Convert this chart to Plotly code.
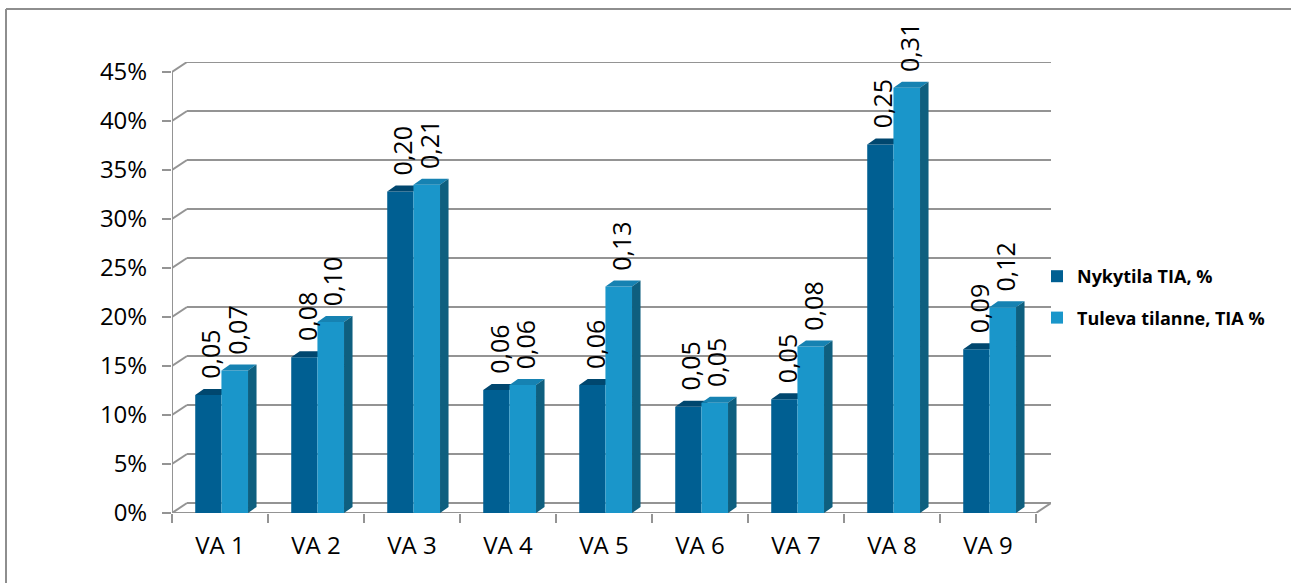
import plotly.graph_objects as go

# ---------------- data ----------------
categories = ["VA 1", "VA 2", "VA 3", "VA 4", "VA 5", "VA 6", "VA 7", "VA 8", "VA 9"]
series_names = ["Nykytila TIA, %", "Tuleva tilanne, TIA %"]
nykytila = [12.05, 15.9, 32.8, 12.55, 13.05, 10.85, 11.6, 37.6, 16.7]
tuleva = [14.55, 19.5, 33.5, 13.05, 23.1, 11.25, 17.0, 43.4, 21.0]
nykytila_labels = ["0,05", "0,08", "0,20", "0,06", "0,06", "0,05", "0,05", "0,25", "0,09"]
tuleva_labels = ["0,07", "0,10", "0,21", "0,06", "0,13", "0,05", "0,08", "0,31", "0,12"]
y_ticks = [0, 5, 10, 15, 20, 25, 30, 35, 40, 45]
y_tick_labels = ["0%", "5%", "10%", "15%", "20%", "25%", "30%", "35%", "40%", "45%"]

# ---------------- geometry / style ----------------
W, H = 1291, 583
PLOT_L, PLOT_R, PLOT_T, PLOT_B = 172, 1051, 62, 513
PX_PER_CAT = 96.0
PX_PER_UNIT = 9.8
X_RANGE = [-0.5, -0.5 + (PLOT_R - PLOT_L) / PX_PER_CAT]
Y_RANGE = [0, (PLOT_B - PLOT_T) / PX_PER_UNIT]
WALL_DX = 15 / PX_PER_CAT
WALL_DY = 10 / PX_PER_UNIT
BAR_DX = 8.5 / PX_PER_CAT
BAR_DY = 6 / PX_PER_UNIT
DARK_OFF, DARK_W = -0.258, 0.273
LIGHT_OFF, LIGHT_W = 0.015, 0.277

C_DARK = "#005F92"
C_DARK_TOP = "#00476F"
C_LIGHT = "#1A96CA"
C_LIGHT_TOP = "#1682B2"
C_SIDE = "#0E5F7F"
GRID = "#949494"
FONT = "Open Sans"


def px_x(px):
    return (px - PLOT_L) / (PLOT_R - PLOT_L)


def px_y(py):
    return (PLOT_B - py) / (PLOT_B - PLOT_T)


idx = list(range(len(categories)))
fig = go.Figure()


def add_series(vals, name, off, w, color, top_color, xa, ya, side):
    fig.add_trace(go.Bar(
        x=idx, y=vals, width=w, offset=off, name=name,
        marker=dict(color=color, line=dict(width=0)),
        legendgroup=name, xaxis=xa, yaxis=ya, hoverinfo="skip"))
    tx, ty = [], []
    for i, v in zip(idx, vals):
        x0, x1 = i + off, i + off + w
        tx += [x0, x1, x1 + BAR_DX, x0 + BAR_DX, x0, None]
        ty += [v, v, v + BAR_DY, v + BAR_DY, v, None]
    fig.add_trace(go.Scatter(x=tx, y=ty, mode="lines", fill="toself",
                             fillcolor=top_color, line=dict(width=0),
                             showlegend=False, legendgroup=name, hoverinfo="skip",
                             xaxis=xa, yaxis=ya))
    if side:
        sx, sy = [], []
        for i, v in zip(idx, vals):
            x1 = i + off + w
            sx += [x1, x1, x1 + BAR_DX, x1 + BAR_DX, x1, None]
            sy += [0, v, v + BAR_DY, BAR_DY, 0, None]
        fig.add_trace(go.Scatter(x=sx, y=sy, mode="lines", fill="toself",
                                 fillcolor=C_SIDE, line=dict(width=0),
                                 showlegend=False, legendgroup=name, hoverinfo="skip",
                                 xaxis=xa, yaxis=ya))


add_series(nykytila, series_names[0], DARK_OFF, DARK_W, C_DARK, C_DARK_TOP, "x", "y", False)
add_series(tuleva, series_names[1], LIGHT_OFF, LIGHT_W, C_LIGHT, C_LIGHT_TOP, "x2", "y2", True)

# ---------------- walls / grid ----------------
shapes = []
line = dict(color=GRID, width=2)
for v in y_ticks:
    shapes.append(dict(type="line", xref="x", yref="y", layer="below",
                       x0=-0.5, y0=v, x1=-0.5 + WALL_DX, y1=v + WALL_DY, line=line))
    shapes.append(dict(type="line", xref="x", yref="y", layer="below",
                       x0=-0.5 + WALL_DX, y0=v + WALL_DY, x1=len(idx) - 0.5 + WALL_DX,
                       y1=v + WALL_DY, line=line))
shapes.append(dict(type="line", xref="x", yref="y", layer="below",
                   x0=-0.5, y0=0, x1=-0.5, y1=y_ticks[-1], line=line))
shapes.append(dict(type="line", xref="x", yref="y", layer="below",
                   x0=-0.5, y0=0, x1=len(idx) - 0.5, y1=0, line=line))
shapes.append(dict(type="line", xref="x", yref="y", layer="below",
                   x0=len(idx) - 0.5, y0=0, x1=len(idx) - 0.5 + WALL_DX, y1=WALL_DY, line=line))
# outer chart frame
frame = dict(color="#8E8E8E", width=2)
shapes.append(dict(type="line", xref="paper", yref="paper", x0=px_x(6), y0=px_y(9),
                   x1=px_x(6), y1=px_y(H + 5), line=frame))
shapes.append(dict(type="line", xref="paper", yref="paper", x0=px_x(6), y0=px_y(9),
                   x1=px_x(W + 5), y1=px_y(9), line=frame))

# ---------------- value labels ----------------
annotations = []
for vals, labels, off, w in [(nykytila, nykytila_labels, DARK_OFF, DARK_W),
                             (tuleva, tuleva_labels, LIGHT_OFF, LIGHT_W)]:
    for i, v, t in zip(idx, vals, labels):
        annotations.append(dict(
            x=i + off + w / 2, y=v, xref="x", yref="y", text=t, showarrow=False,
            textangle=-90, xanchor="center", yanchor="bottom", yshift=14, xshift=2,
            font=dict(family=FONT, size=25, color="#000000")))

fig.update_layout(
    width=W, height=H, autosize=False,
    margin=dict(l=PLOT_L, r=W - PLOT_R, t=PLOT_T, b=H - PLOT_B, pad=0),
    paper_bgcolor="white", plot_bgcolor="white",
    barmode="overlay",
    shapes=shapes, annotations=annotations,
    showlegend=True,
    legend=dict(x=px_x(1037), y=px_y(258), xanchor="left", yanchor="top",
                font=dict(family=FONT, size=18, color="#000000", weight=700),
                tracegroupgap=15, traceorder="grouped", bgcolor="rgba(0,0,0,0)"),
    xaxis=dict(range=X_RANGE, tickmode="array", tickvals=idx, ticktext=categories,
               ticks="", showgrid=False, zeroline=False, showline=False,
               automargin=False, ticklabelstandoff=16,
               tickfont=dict(family=FONT, size=24, color="#000000"),
               minor=dict(tick0=-0.5, dtick=1, ticks="outside", ticklen=9,
                          tickwidth=2, tickcolor=GRID, showgrid=False)),
    yaxis=dict(range=Y_RANGE, tickmode="array", tickvals=y_ticks, ticktext=y_tick_labels,
               ticks="outside", ticklen=9, tickwidth=2, tickcolor=GRID,
               showgrid=False, zeroline=False, showline=False, automargin=False,
               ticklabelstandoff=10,
               tickfont=dict(family=FONT, size=24, color="#000000")),
    xaxis2=dict(range=X_RANGE, overlaying="x", visible=False, anchor="y2"),
    yaxis2=dict(range=Y_RANGE, overlaying="y", visible=False, anchor="x2"),
)

fig.write_html("out.html", config={"displayModeBar": False},
               post_script="document.body.style.margin='0';document.body.style.overflow='hidden';")
